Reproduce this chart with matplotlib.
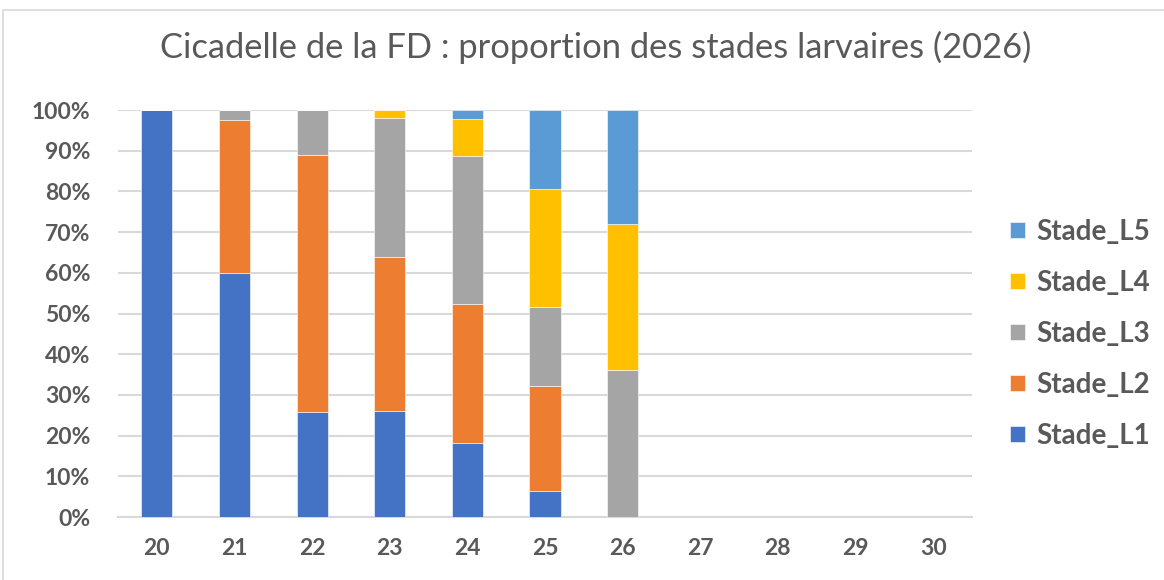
import matplotlib.pyplot as plt
import matplotlib.patches as mpatches
import numpy as np

# semaines et proportions (%) par stade larvaire
semaines = ['20', '21', '22', '23', '24', '25', '26', '27', '28', '29', '30']
stade_l1 = [100, 60, 25.9, 26, 18.2, 6.45, 0, 0, 0, 0, 0]
stade_l2 = [0, 37.5, 63, 38, 34.1, 25.8, 0, 0, 0, 0, 0]
stade_l3 = [0, 2.5, 11.1, 34, 36.4, 19.35, 36, 0, 0, 0, 0]
stade_l4 = [0, 0, 0, 2, 9.1, 29, 36, 0, 0, 0, 0]
stade_l5 = [0, 0, 0, 0, 2.2, 19.4, 28, 0, 0, 0, 0]

series = [('Stade_L1', stade_l1, '#4472C4'),
          ('Stade_L2', stade_l2, '#ED7D31'),
          ('Stade_L3', stade_l3, '#A5A5A5'),
          ('Stade_L4', stade_l4, '#FFC000'),
          ('Stade_L5', stade_l5, '#5B9BD5')]

text_color = '#595959'
grid_color = '#D9D9D9'

fig = plt.figure(figsize=(11.64, 5.8), dpi=100)
ax = fig.add_axes([0.1014, 0.1086, 0.7336, 0.7017])

# cadre du graphique
fig.patches.append(mpatches.Rectangle((3 / 1164, -0.1), 1.1, 0.1 + 570 / 580,
                                      transform=fig.transFigure, fill=False,
                                      edgecolor=grid_color, linewidth=1.2))

x = np.arange(len(semaines))
bottom = np.zeros(len(semaines))
handles = []
for name, values, color in series:
    vals = np.array(values, dtype=float)
    bars = ax.bar(x, vals, width=0.4, bottom=bottom, color=color,
                  edgecolor='white', linewidth=0.4, label=name, zorder=3)
    handles.append(bars)
    bottom += vals

ax.set_xlim(-0.5, len(semaines) - 0.5)
ax.set_ylim(0, 100)
ax.set_yticks(np.arange(0, 101, 10))
ax.set_yticklabels([f'{v}%' for v in range(0, 101, 10)])
ax.set_xticks(x)
ax.set_xticklabels(semaines)

ax.yaxis.grid(True, color=grid_color, linewidth=1.5, zorder=0)
for side in ['top', 'right', 'left']:
    ax.spines[side].set_visible(False)
ax.spines['bottom'].set_color(grid_color)
ax.spines['bottom'].set_linewidth(1.5)
ax.tick_params(length=0, colors=text_color)
ax.tick_params(axis='x', pad=15)
ax.tick_params(axis='y', pad=20)
for lbl in ax.get_xticklabels() + ax.get_yticklabels():
    lbl.set_fontfamily('Lato')
    lbl.set_fontweight('bold')
    lbl.set_fontsize(16.5)

fig.text(0.5116, 0.918, 'Cicadelle de la FD : proportion des stades larvaires (2026)',
         ha='center', va='center', fontsize=24.8, color=text_color, family='Lato')

leg = ax.legend(handles[::-1], [s[0] for s in series][::-1],
                loc='center left', bbox_to_anchor=(1.022, 0.45), frameon=False,
                handlelength=0.55, handleheight=0.55, handletextpad=0.4,
                labelspacing=0.9, borderaxespad=0.3,
                prop={'family': 'Lato', 'weight': 'bold', 'size': 20})
for t in leg.get_texts():
    t.set_color(text_color)

fig.savefig('out.png', dpi=100)
